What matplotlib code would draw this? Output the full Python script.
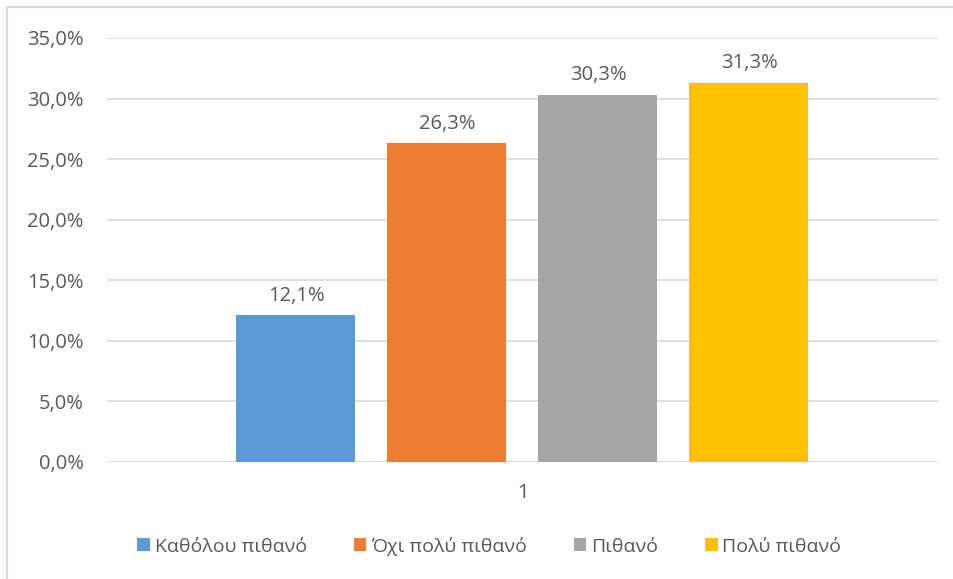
import matplotlib.pyplot as plt
from matplotlib.patches import Patch
from matplotlib.lines import Line2D
from matplotlib.ticker import FuncFormatter

plt.rcParams['font.family'] = ['Open Sans', 'DejaVu Sans']

categories = ["1"]
series_names = ["Καθόλου πιθανό", "Όχι πολύ πιθανό", "Πιθανό", "Πολύ πιθανό"]
values = [12.1, 26.3, 30.3, 31.3]
colors = ["#5B9BD5", "#ED7D31", "#A5A5A5", "#FFC000"]

TEXT = "#595959"
GRID = "#D9D9D9"

fig = plt.figure(figsize=(9.54, 5.79), dpi=100)
ax = fig.add_axes([107 / 954, 117 / 579, 831 / 954, 424 / 579])

bar_w = 119 / 831
step = 151 / 831
for i, (name, v, c) in enumerate(zip(series_names, values, colors)):
    x = (i - 1.5) * step
    ax.bar(x, v, width=bar_w, color=c, label=name, zorder=3)
    ax.annotate(f"{v:.1f}%".replace(".", ","), (x, v), xytext=(0, 7),
                textcoords="offset points", ha="center", va="bottom",
                fontsize=14.5, color=TEXT)

ax.set_xlim(-0.5, 0.5)
ax.set_ylim(0, 35)
ax.set_yticks(range(0, 36, 5))
ax.yaxis.set_major_formatter(FuncFormatter(lambda y, _: f"{y:.1f}%".replace(".", ",")))
ax.set_xticks([0])
ax.set_xticklabels(categories)
ax.tick_params(axis="both", length=0, labelsize=14.5, labelcolor=TEXT)
ax.tick_params(axis="x", pad=15)
ax.tick_params(axis="y", pad=17)
ax.grid(axis="y", color=GRID, linewidth=1.2, zorder=0)
for s in ax.spines.values():
    s.set_visible(False)

handles = [Patch(facecolor=c, edgecolor="none") for c in colors]
fig.legend(handles, series_names, loc="center", bbox_to_anchor=(0.513, 1 - 546 / 579),
           ncol=4, frameon=False, fontsize=14, labelcolor=TEXT,
           handlelength=0.65, handleheight=0.65, handletextpad=0.25, columnspacing=2.4)

# chart border (top and left visible in the screenshot)
fig.add_artist(Line2D([7 / 954, 7 / 954], [0, 1 - 7 / 579], color=GRID, lw=1.5))
fig.add_artist(Line2D([7 / 954, 1], [1 - 7 / 579, 1 - 7 / 579], color=GRID, lw=1.5))

fig.savefig("out.png", dpi=100)
